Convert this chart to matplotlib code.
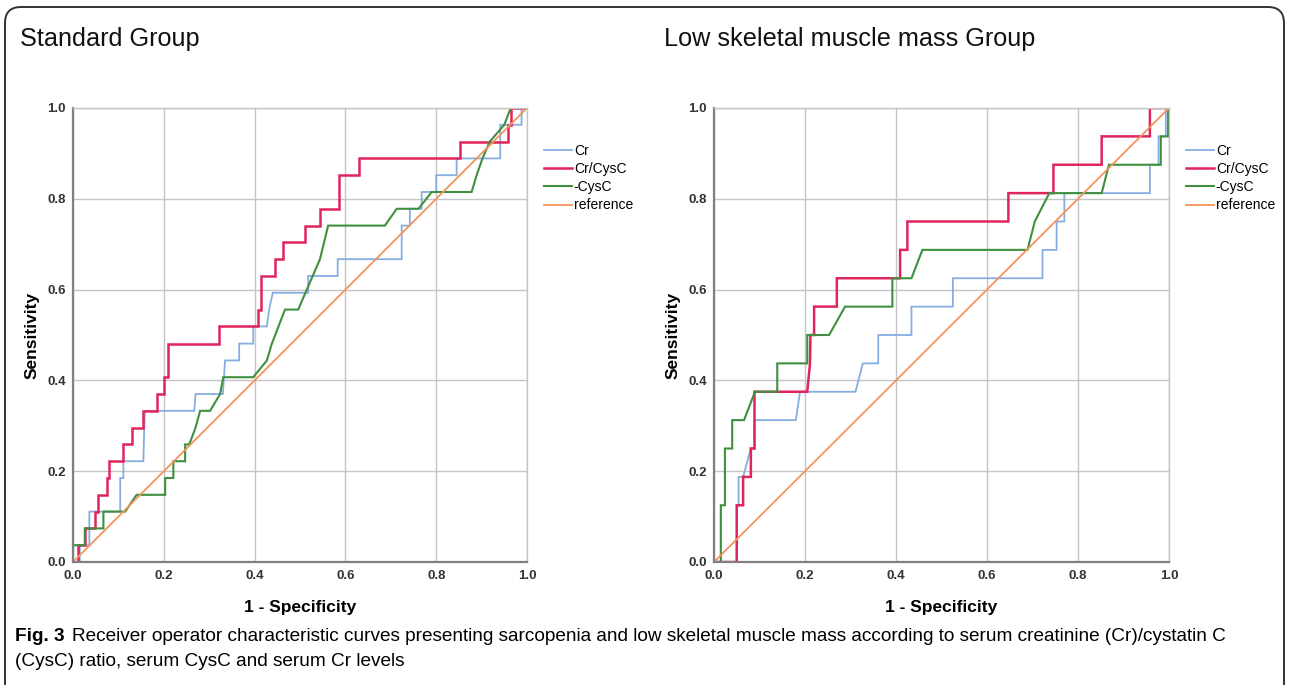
import matplotlib
matplotlib.use("Agg")
import matplotlib.pyplot as plt
from matplotlib.patches import FancyBboxPatch
from matplotlib.transforms import IdentityTransform

# ROC curves (1 - specificity, sensitivity)
std_cr_fpr = [0, 0.015, 0.015, 0.036, 0.036, 0.104, 0.104, 0.111, 0.111, 0.155, 0.158, 0.267, 0.270,
              0.330, 0.335, 0.366, 0.366, 0.397, 0.397, 0.427, 0.432, 0.440, 0.518, 0.518, 0.583, 0.583,
              0.724, 0.724, 0.742, 0.742, 0.768, 0.768, 0.800, 0.800, 0.845, 0.845, 0.941, 0.941, 0.988,
              0.988, 1.0]
std_cr_tpr = [0, 0, 0.037, 0.037, 0.111, 0.111, 0.185, 0.185, 0.222, 0.222, 0.333, 0.333, 0.370,
              0.370, 0.444, 0.444, 0.481, 0.481, 0.519, 0.519, 0.556, 0.593, 0.593, 0.630, 0.630, 0.667,
              0.667, 0.741, 0.741, 0.778, 0.778, 0.815, 0.815, 0.852, 0.852, 0.889, 0.889, 0.963, 0.963,
              1.0, 1.0]

std_ratio_fpr = [0, 0.012, 0.012, 0.026, 0.026, 0.048, 0.048, 0.056, 0.056, 0.074, 0.074, 0.080, 0.080,
                 0.111, 0.111, 0.129, 0.129, 0.155, 0.155, 0.186, 0.186, 0.201, 0.201, 0.209, 0.209,
                 0.322, 0.322, 0.408, 0.408, 0.413, 0.413, 0.445, 0.445, 0.463, 0.463, 0.512, 0.512,
                 0.544, 0.544, 0.587, 0.587, 0.631, 0.631, 0.852, 0.852, 0.959, 0.959, 0.964, 0.964, 1.0]
std_ratio_tpr = [0, 0, 0.037, 0.037, 0.074, 0.074, 0.111, 0.111, 0.148, 0.148, 0.185, 0.185, 0.222,
                 0.222, 0.259, 0.259, 0.296, 0.296, 0.333, 0.333, 0.370, 0.370, 0.407, 0.407, 0.481,
                 0.481, 0.519, 0.519, 0.556, 0.556, 0.630, 0.630, 0.667, 0.667, 0.704, 0.704, 0.741,
                 0.741, 0.778, 0.778, 0.852, 0.852, 0.889, 0.889, 0.926, 0.926, 0.963, 0.963, 1.0, 1.0]

std_cysc_fpr = [0, 0, 0.026, 0.026, 0.067, 0.067, 0.115, 0.140, 0.203, 0.203, 0.221, 0.221, 0.247,
                0.247, 0.256, 0.270, 0.280, 0.302, 0.324, 0.331, 0.397, 0.427, 0.438, 0.467, 0.496,
                0.544, 0.562, 0.687, 0.713, 0.761, 0.790, 0.878, 0.889, 0.902, 0.918, 0.950, 0.964, 1.0]
std_cysc_tpr = [0, 0.037, 0.037, 0.074, 0.074, 0.111, 0.111, 0.148, 0.148, 0.185, 0.185, 0.222, 0.222,
                0.259, 0.259, 0.296, 0.333, 0.333, 0.370, 0.407, 0.407, 0.444, 0.481, 0.556, 0.556,
                0.667, 0.741, 0.741, 0.778, 0.778, 0.815, 0.815, 0.852, 0.889, 0.926, 0.963, 1.0, 1.0]

low_cr_fpr = [0, 0.050, 0.050, 0.054, 0.054, 0.064, 0.081, 0.089, 0.089, 0.180, 0.189, 0.311, 0.327,
              0.361, 0.361, 0.434, 0.434, 0.525, 0.525, 0.722, 0.722, 0.753, 0.753, 0.770, 0.770,
              0.958, 0.958, 0.977, 0.977, 0.993, 0.993, 1.0]
low_cr_tpr = [0, 0, 0.125, 0.125, 0.1875, 0.1875, 0.25, 0.25, 0.3125, 0.3125, 0.375, 0.375, 0.4375,
              0.4375, 0.5, 0.5, 0.5625, 0.5625, 0.625, 0.625, 0.6875, 0.6875, 0.75, 0.75, 0.8125,
              0.8125, 0.875, 0.875, 0.9375, 0.9375, 1.0, 1.0]

low_ratio_fpr = [0, 0.050, 0.050, 0.064, 0.064, 0.081, 0.081, 0.089, 0.089, 0.205, 0.211, 0.212, 0.220,
                 0.220, 0.270, 0.270, 0.409, 0.409, 0.425, 0.425, 0.647, 0.647, 0.746, 0.746, 0.852,
                 0.852, 0.958, 0.958, 1.0]
low_ratio_tpr = [0, 0, 0.125, 0.125, 0.1875, 0.1875, 0.25, 0.25, 0.375, 0.375, 0.4375, 0.5, 0.5,
                 0.5625, 0.5625, 0.625, 0.625, 0.6875, 0.6875, 0.75, 0.75, 0.8125, 0.8125, 0.875, 0.875,
                 0.9375, 0.9375, 1.0, 1.0]

low_cysc_fpr = [0, 0.015, 0.015, 0.024, 0.024, 0.040, 0.040, 0.066, 0.090, 0.139, 0.139, 0.205, 0.205,
                0.253, 0.288, 0.392, 0.392, 0.434, 0.458, 0.689, 0.705, 0.737, 0.852, 0.868, 0.982,
                0.982, 0.998, 0.998, 1.0]
low_cysc_tpr = [0, 0, 0.125, 0.125, 0.25, 0.25, 0.3125, 0.3125, 0.375, 0.375, 0.4375, 0.4375, 0.5,
                0.5, 0.5625, 0.5625, 0.625, 0.625, 0.6875, 0.6875, 0.75, 0.8125, 0.8125, 0.875, 0.875,
                0.9375, 0.9375, 1.0, 1.0]

ref_line = [0, 1]
series_labels = ["Cr", "Cr/CysC", "-CysC", "reference"]
panel_titles = ["Standard Group", "Low skeletal muscle mass Group"]
ticks = [0.0, 0.2, 0.4, 0.6, 0.8, 1.0]

colors = {"Cr": "#86aee0", "Cr/CysC": "#e0245c", "-CysC": "#3f8f3f", "reference": "#f4945a"}
widths = {"Cr": 1.3, "Cr/CysC": 1.8, "-CysC": 1.5, "reference": 1.3}

fig = plt.figure(figsize=(12.9, 6.85), dpi=100)
plt.rcParams['font.family'] = ['Liberation Sans', 'DejaVu Sans']


def draw_panel(ax, curves):
    for label, (fx, ty) in zip(series_labels, curves):
        ax.plot(fx, ty, color=colors[label], lw=widths[label], label=label, solid_joinstyle="miter")
    ax.set_xlim(0, 1)
    ax.set_ylim(0, 1)
    ax.set_xticks(ticks)
    ax.set_yticks(ticks)
    ax.set_xticklabels([f"{t:.1f}" for t in ticks])
    ax.set_yticklabels([f"{t:.1f}" for t in ticks])
    ax.grid(True, color="#c4c4c4", lw=1.0)
    ax.set_axisbelow(True)
    for s in ["top", "right"]:
        ax.spines[s].set_color("#c4c4c4")
        ax.spines[s].set_linewidth(1.0)
    for s in ["left", "bottom"]:
        ax.spines[s].set_color("#808080")
        ax.spines[s].set_linewidth(1.6)
    ax.tick_params(length=0, labelsize=9.5, labelcolor="#333333")
    ax.tick_params(axis="x", pad=6)
    ax.tick_params(axis="y", pad=5)
    for lab in ax.get_xticklabels() + ax.get_yticklabels():
        lab.set_fontweight("bold")
    ax.set_xlabel("1 - Specificity", fontsize=12.5, fontweight="bold", labelpad=13)
    ax.set_ylabel("Sensitivity", fontsize=12.5, fontweight="bold", labelpad=6)
    ax.legend(loc="upper left", bbox_to_anchor=(1.025, 0.933), frameon=False, fontsize=10,
              handlelength=2.0, handletextpad=0.15, labelspacing=0.3, borderaxespad=0)


ax1 = fig.add_axes([73 / 1290, 123 / 685, 454 / 1290, 454 / 685])
draw_panel(ax1, [(std_cr_fpr, std_cr_tpr), (std_ratio_fpr, std_ratio_tpr),
                 (std_cysc_fpr, std_cysc_tpr), (ref_line, ref_line)])

ax2 = fig.add_axes([714 / 1290, 123 / 685, 455 / 1290, 454 / 685])
draw_panel(ax2, [(low_cr_fpr, low_cr_tpr), (low_ratio_fpr, low_ratio_tpr),
                 (low_cysc_fpr, low_cysc_tpr), (ref_line, ref_line)])

fig.text(20 / 1290, 1 - 46 / 685, panel_titles[0], fontsize=18.2, color="#111111")
fig.text(664 / 1290, 1 - 46 / 685, panel_titles[1], fontsize=18.2, color="#111111")

# caption
cap_font = ['Liberation Sans', 'DejaVu Sans']
fig.text(15 / 1290, 1 - 641 / 685, "Fig. 3", fontsize=13.7, fontweight="bold", family=cap_font)
fig.text(72 / 1290, 1 - 641 / 685,
         "Receiver operator characteristic curves presenting sarcopenia and low skeletal muscle mass "
         "according to serum creatinine (Cr)/cystatin C",
         fontsize=13.7, family=cap_font)
fig.text(15 / 1290, 1 - 666 / 685, "(CysC) ratio, serum CysC and serum Cr levels",
         fontsize=13.7, family=cap_font)

# rounded frame around the figure
frame = FancyBboxPatch((5, -30), 1279, 708, boxstyle="round,pad=0,rounding_size=16",
                       transform=IdentityTransform(), fill=False, ec="#333333", lw=1.4)
fig.add_artist(frame)

fig.savefig("out.png", dpi=100)
